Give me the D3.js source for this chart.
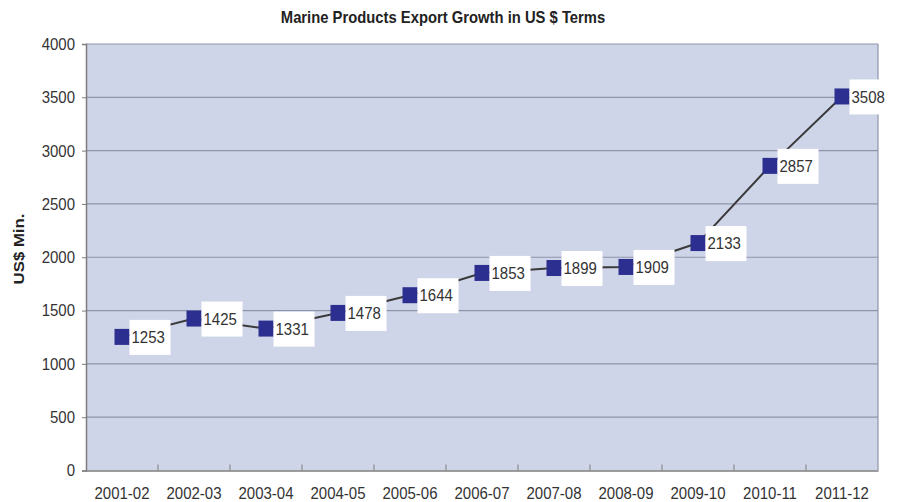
<!DOCTYPE html>
<html>
<head>
<meta charset="utf-8">
<script src="https://cdn.jsdelivr.net/npm/d3@7"></script>
<style>
  html, body { margin: 0; padding: 0; background: #ffffff; }
  svg { display: block; font-family: "Liberation Sans", Arial, sans-serif; }
</style>
</head>
<body>
<svg id="chart" width="898" height="502"></svg>
<script>
// Marine products export, US$ million, by financial year
const years = ["2001-02", "2002-03", "2003-04", "2004-05", "2005-06", "2006-07",
               "2007-08", "2008-09", "2009-10", "2010-11", "2011-12"];
const exportValues = [1253, 1425, 1331, 1478, 1644, 1853, 1899, 1909, 2133, 2857, 3508];
const yTicks = [0, 500, 1000, 1500, 2000, 2500, 3000, 3500, 4000];

const svg = d3.select("#chart");
const plot = { left: 86, right: 878, top: 44, bottom: 470.5 };
const tall = 1.12; // text is drawn slightly tall and narrow

const x = d3.scaleBand().domain(years).range([plot.left, plot.right]);
const y = d3.scaleLinear().domain([0, 4000]).range([plot.bottom, plot.top]);

// title
svg.append("text")
  .attr("transform", `translate(443,23) scale(1,${tall})`)
  .attr("text-anchor", "middle")
  .attr("font-size", 14.8).attr("font-weight", "bold")
  .attr("fill", "#222")
  .text("Marine Products Export Growth in US $ Terms");

// plot background
svg.append("rect")
  .attr("x", plot.left).attr("y", plot.top)
  .attr("width", plot.right - plot.left).attr("height", plot.bottom - plot.top)
  .attr("fill", "#cfd5e8");

// horizontal gridlines
svg.append("g")
  .selectAll("line")
  .data(yTicks.filter(d => d > 0))
  .join("line")
  .attr("x1", plot.left).attr("x2", plot.right)
  .attr("y1", d => y(d)).attr("y2", d => y(d))
  .attr("stroke", "#8e95ab").attr("stroke-width", 1.2);

// y axis
const yAxis = svg.append("g")
  .attr("transform", `translate(${plot.left},0)`)
  .call(d3.axisLeft(y).tickValues(yTicks).tickFormat(d3.format("d")).tickSize(4).tickPadding(7));
yAxis.select(".domain").attr("stroke", "#7d7d7d").attr("stroke-width", 1.5);
yAxis.selectAll(".tick line").attr("stroke", "#7d7d7d");
yAxis.selectAll(".tick text")
  .attr("transform", `scale(1,${tall})`)
  .attr("font-size", 15).attr("fill", "#333")
  .attr("font-family", "'Liberation Sans', Arial, sans-serif");

// x axis: tick marks sit on the category boundaries
const xAxis = svg.append("g")
  .attr("transform", `translate(0,${plot.bottom})`)
  .call(d3.axisBottom(x).tickSize(0).tickPadding(0));
xAxis.select(".domain").attr("stroke", "#7d7d7d").attr("stroke-width", 1.5);
xAxis.selectAll(".tick text")
  .attr("transform", `scale(1,${tall})`)
  .attr("y", 29 / tall)
  .attr("dy", 0)
  .attr("font-size", 15).attr("fill", "#333")
  .attr("font-family", "'Liberation Sans', Arial, sans-serif");

svg.append("g")
  .selectAll("line")
  .data(years.slice(1))
  .join("line")
  .attr("x1", d => x(d)).attr("x2", d => x(d))
  .attr("y1", plot.bottom - 6).attr("y2", plot.bottom)
  .attr("stroke", "#7d7d7d").attr("stroke-width", 1);

// right border of plot
svg.append("line")
  .attr("x1", plot.right).attr("x2", plot.right)
  .attr("y1", plot.top).attr("y2", plot.bottom)
  .attr("stroke", "#8e95ab").attr("stroke-width", 1.2);

// y axis title
svg.append("text")
  .attr("transform", `translate(24,249) rotate(-90) scale(${tall},1)`)
  .attr("text-anchor", "middle")
  .attr("font-size", 15).attr("font-weight", "bold")
  .attr("fill", "#222")
  .text("US$ Min.");

const pts = years.map((yr, i) => ({ yr, v: exportValues[i], cx: x(yr) + x.bandwidth() / 2, cy: y(exportValues[i]) }));

// connecting line
svg.append("path")
  .datum(pts)
  .attr("fill", "none")
  .attr("stroke", "#3a3a3a").attr("stroke-width", 2)
  .attr("d", d3.line().x(d => d.cx).y(d => d.cy));

// markers
const mw = 15, mh = 16;
svg.append("g")
  .selectAll("rect")
  .data(pts)
  .join("rect")
  .attr("x", d => d.cx - mw / 2).attr("y", d => d.cy - mh / 2)
  .attr("width", mw).attr("height", mh)
  .attr("fill", "#2c2f8f");

// value labels in white boxes
const lab = svg.append("g").selectAll("g").data(pts).join("g")
  .attr("transform", d => `translate(${d.cx + mw / 2},${d.cy})`);
lab.append("rect")
  .attr("x", 0).attr("y", -17)
  .attr("width", 41).attr("height", 35)
  .attr("fill", "#ffffff");
lab.append("text")
  .attr("transform", `translate(2,0) scale(1,${tall})`)
  .attr("dy", "0.36em")
  .attr("font-size", 15).attr("fill", "#333")
  .text(d => d.v);
</script>
</body>
</html>
